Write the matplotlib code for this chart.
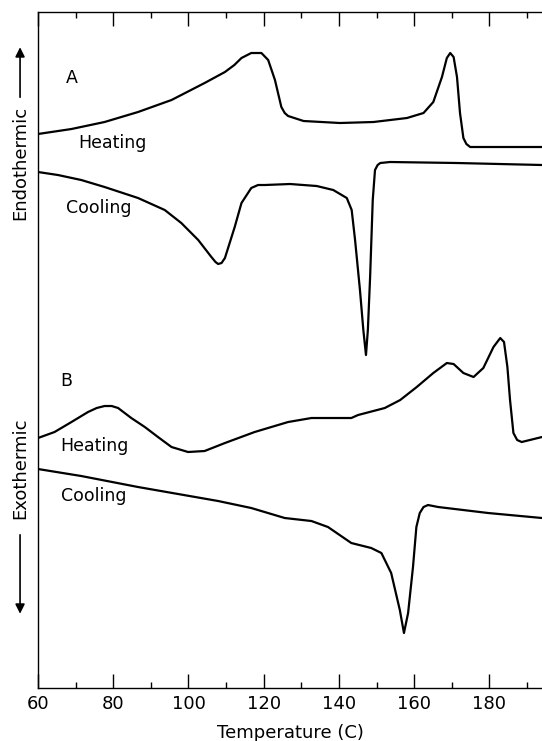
import matplotlib
matplotlib.use('Agg')
import matplotlib.pyplot as plt
from matplotlib.ticker import MultipleLocator

# temperature (C) / signal (arbitrary units)
a_heat_t = [60, 68.9, 77.7, 86.6, 95.5, 104.3, 109.7, 112.2, 114.1, 116.7, 119.4, 121.2, 123.0, 124.7,
            125.6, 126.5, 130.6, 140.3, 149.2, 158.1, 162.5, 165.1, 167.4, 168.7, 169.6, 170.5, 171.4,
            172.2, 173.1, 173.9, 174.9, 180.2, 194]
a_heat_s = [554, 559, 566, 576, 588, 605, 616, 623, 630, 635, 635, 628, 608, 581,
            575, 572, 567, 565, 566, 570, 575, 586, 611, 630, 635, 631, 611,
            575, 550, 544, 541, 541, 541]

a_cool_t = [60, 65.3, 71.5, 77.7, 86.6, 93.7, 98.1, 102.6, 106.1, 107.2, 107.9, 108.8, 109.7, 112.3,
            114.1, 116.7, 118.5, 120.3, 127.0, 134.1, 138.5, 142.1, 143.4, 144.3, 145.6, 146.5, 147.2,
            147.7, 148.3, 149.0, 149.6, 150.3, 151.0, 153.6, 171.4, 194]
a_cool_s = [516, 513, 508, 501, 490, 478, 465, 448, 431, 426, 424, 425, 430, 461,
            485, 500, 503, 503, 504, 502, 498, 490, 478, 448, 398, 358, 333,
            358, 411, 488, 518, 523, 525, 526, 525, 523]

b_heat_t = [60, 64.4, 68.9, 73.3, 75.6, 77.7, 79.6, 81.3, 84.8, 88.4, 91.9, 95.5, 99.9, 104.3, 109.7,
            117.6, 126.5, 132.7, 138.0, 143.3, 145.1, 152.2, 156.3, 160.7, 165.1, 168.7, 170.5, 173.1,
            175.8, 178.4, 181.1, 182.9, 183.9, 184.8, 185.5, 186.4, 187.4, 188.6, 194]
b_heat_s = [250, 256, 266, 276, 280, 282, 282, 280, 270, 261, 251, 241, 236, 237, 245,
            256, 266, 270, 270, 270, 273, 280, 288, 301, 315, 325, 324, 315,
            311, 320, 341, 350, 346, 321, 288, 255, 248, 246, 251]

b_cool_t = [60, 71.5, 86.6, 107.9, 116.7, 125.6, 132.7, 137.1, 143.3, 148.6, 151.3, 153.9, 156.2,
            157.3, 158.4, 159.7, 160.6, 161.5, 162.5, 163.7, 166.4, 179.7, 194]
b_cool_s = [219, 212, 201, 187, 180, 170, 167, 161, 145, 140, 135, 115, 78,
            55, 75, 121, 161, 175, 181, 183, 181, 175, 170]

x_ticks = [60, 80, 100, 120, 140, 160, 180]

fig = plt.figure(figsize=(5.42, 7.41), dpi=100)
ax = fig.add_axes([0.0701, 0.0715, 0.9299, 0.9123])

for t, s in [(a_heat_t, a_heat_s), (a_cool_t, a_cool_s), (b_heat_t, b_heat_s), (b_cool_t, b_cool_s)]:
    ax.plot(t, s, color='black', lw=1.6, solid_joinstyle='round', solid_capstyle='round')

ax.set_xlim(60, 194)
ax.set_ylim(0, 676)
ax.set_xticks(x_ticks)
ax.xaxis.set_minor_locator(MultipleLocator(10))
ax.set_yticks([])
ax.spines['right'].set_visible(False)
for sp in ['left', 'top', 'bottom']:
    ax.spines[sp].set_linewidth(1.0)
ax.tick_params(axis='x', which='major', direction='in', length=10, width=1.0,
               top=True, labelsize=13, pad=5)
ax.tick_params(axis='x', which='minor', direction='in', length=4.5, width=1.0, top=True)
ax.set_xlabel('Temperature (C)', fontsize=13, labelpad=8)

fs = 12.5
ax.text(67.5, 610, 'A', fontsize=fs, va='center')
ax.text(70.6, 545, 'Heating', fontsize=fs, va='center')
ax.text(67.5, 480, 'Cooling', fontsize=fs, va='center')
ax.text(65.8, 307, 'B', fontsize=fs, va='center')
ax.text(65.8, 242, 'Heating', fontsize=fs, va='center')
ax.text(66.1, 192, 'Cooling', fontsize=fs, va='center')

# axis direction labels with arrows
fig.text(0.037, 0.780, 'Endothermic', rotation=90, fontsize=13, ha='center', va='center')
fig.text(0.037, 0.368, 'Exothermic', rotation=90, fontsize=13, ha='center', va='center')
ax.annotate('', xy=(0.037, 0.940), xytext=(0.037, 0.865), xycoords='figure fraction',
            arrowprops=dict(arrowstyle='-|>', color='black', lw=1.2, mutation_scale=14))
ax.annotate('', xy=(0.037, 0.168), xytext=(0.037, 0.282), xycoords='figure fraction',
            arrowprops=dict(arrowstyle='-|>', color='black', lw=1.2, mutation_scale=14))

fig.savefig('out.png', dpi=100)
